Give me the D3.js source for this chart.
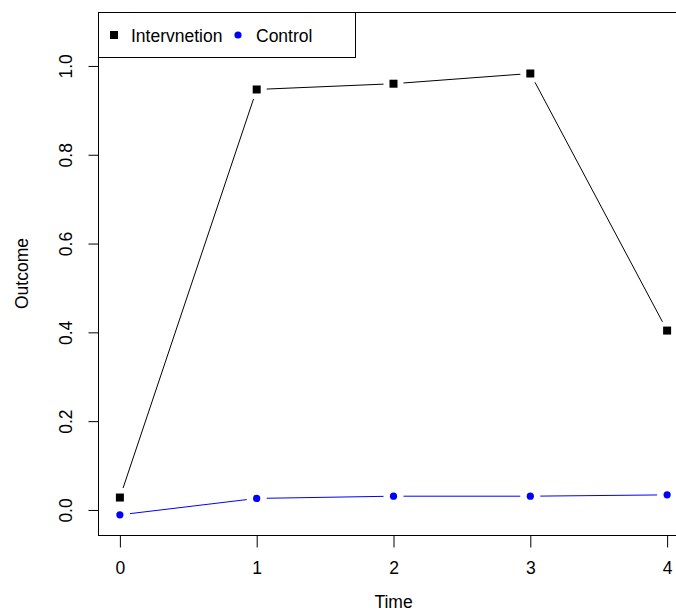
<!DOCTYPE html>
<html>
<head>
<meta charset="utf-8">
<script src="https://cdn.jsdelivr.net/npm/d3@7"></script>
<style>
  html, body { margin: 0; padding: 0; background: #fff; }
  svg { display: block; font-family: "Liberation Sans", Arial, sans-serif; }
</style>
</head>
<body>
<svg id="chart" width="676" height="611"></svg>
<script>
// Outcome over time for the two study arms
const times = [0, 1, 2, 3, 4];
const intervention = [0.028, 0.947, 0.960, 0.983, 0.404];
const control = [-0.011, 0.026, 0.031, 0.031, 0.034];
const xTicks = [0, 1, 2, 3, 4];
const yTicks = [0.0, 0.2, 0.4, 0.6, 0.8, 1.0];
const seriesNames = ["Intervnetion", "Control"];

(function () {
  const svg = d3.select("#chart");
  const fs = 17.5;

  // Plot region (right side of the frame runs past the canvas edge)
  const pLeft = 98, pTop = 12, pBottom = 535, pRight = 689;
  const x = d3.scaleLinear().domain([-0.16, 4.16]).range([pLeft, pRight]);
  const y = d3.scaleLinear().domain([-0.0564, 1.1215]).range([pBottom, pTop]);

  svg.append("defs").append("clipPath").attr("id", "plotclip")
    .append("rect").attr("x", pLeft).attr("y", pTop)
    .attr("width", pRight - pLeft).attr("height", pBottom - pTop);

  // Frame
  svg.append("rect")
    .attr("x", pLeft + 0.5).attr("y", pTop + 0.5)
    .attr("width", pRight - pLeft).attr("height", pBottom - pTop)
    .attr("fill", "none").attr("stroke", "#000").attr("stroke-width", 1);

  // Axes
  const xAxis = d3.axisBottom(x).tickValues(xTicks).tickFormat(d3.format("d"))
    .tickSize(12).tickPadding(14);
  const gx = svg.append("g").attr("transform", `translate(0,${pBottom + 0.5})`).call(xAxis);
  gx.select(".domain").remove();
  gx.selectAll("text").attr("font-size", fs).attr("fill", "#000")
    .attr("font-family", "Liberation Sans, Arial, sans-serif");
  gx.selectAll("line").attr("stroke", "#000");

  const yAxis = d3.axisLeft(y).tickValues(yTicks).tickFormat(d3.format(".1f"))
    .tickSize(10).tickPadding(0);
  const gy = svg.append("g").attr("transform", `translate(${pLeft + 0.5},0)`).call(yAxis);
  gy.select(".domain").remove();
  gy.selectAll("line").attr("stroke", "#000");
  gy.selectAll("text")
    .attr("font-size", fs).attr("fill", "#000")
    .attr("font-family", "Liberation Sans, Arial, sans-serif")
    .attr("text-anchor", "middle").attr("dy", null).attr("x", null)
    .attr("transform", "translate(-33,0) rotate(-90)")
    .attr("dominant-baseline", "central");

  // Axis titles
  svg.append("text").attr("x", (x(0) + x(4)) / 2).attr("y", 608)
    .attr("text-anchor", "middle").attr("font-size", fs).text("Time");
  svg.append("text")
    .attr("transform", `translate(28,${(pTop + pBottom) / 2}) rotate(-90)`)
    .attr("text-anchor", "middle").attr("font-size", fs).text("Outcome");

  // Lines with gaps around the points (type = "b")
  const plot = svg.append("g").attr("clip-path", "url(#plotclip)");
  function drawGapped(values, color) {
    const pts = times.map((t, i) => [x(t), y(values[i])]);
    const gap = 10;
    for (let i = 0; i < pts.length - 1; i++) {
      const [x1, y1] = pts[i], [x2, y2] = pts[i + 1];
      const len = Math.hypot(x2 - x1, y2 - y1);
      if (len <= 2 * gap) continue;
      const ux = (x2 - x1) / len, uy = (y2 - y1) / len;
      plot.append("line")
        .attr("x1", x1 + ux * gap).attr("y1", y1 + uy * gap)
        .attr("x2", x2 - ux * gap).attr("y2", y2 - uy * gap)
        .attr("stroke", color).attr("stroke-width", 1);
    }
  }
  drawGapped(intervention, "#000");
  drawGapped(control, "#0000ff");

  plot.selectAll(".sq").data(intervention).enter().append("rect")
    .attr("x", (d, i) => x(times[i]) - 4).attr("y", d => y(d) - 4)
    .attr("width", 8).attr("height", 8).attr("fill", "#000");
  plot.selectAll(".dot").data(control).enter().append("circle")
    .attr("cx", (d, i) => x(times[i])).attr("cy", d => y(d))
    .attr("r", 3.6).attr("fill", "#0000ff");

  // Legend
  const lg = svg.append("g");
  lg.append("rect").attr("x", pLeft + 0.5).attr("y", pTop + 0.5)
    .attr("width", 257).attr("height", 45)
    .attr("fill", "#fff").attr("stroke", "#000").attr("stroke-width", 1);
  lg.append("rect").attr("x", 110).attr("y", 31).attr("width", 8).attr("height", 8).attr("fill", "#000");
  lg.append("text").attr("x", 131).attr("y", 42).attr("font-size", fs).text(seriesNames[0]);
  lg.append("circle").attr("cx", 238).attr("cy", 35).attr("r", 3.6).attr("fill", "#0000ff");
  lg.append("text").attr("x", 256).attr("y", 42).attr("font-size", fs).text(seriesNames[1]);
})();
</script>
</body>
</html>
